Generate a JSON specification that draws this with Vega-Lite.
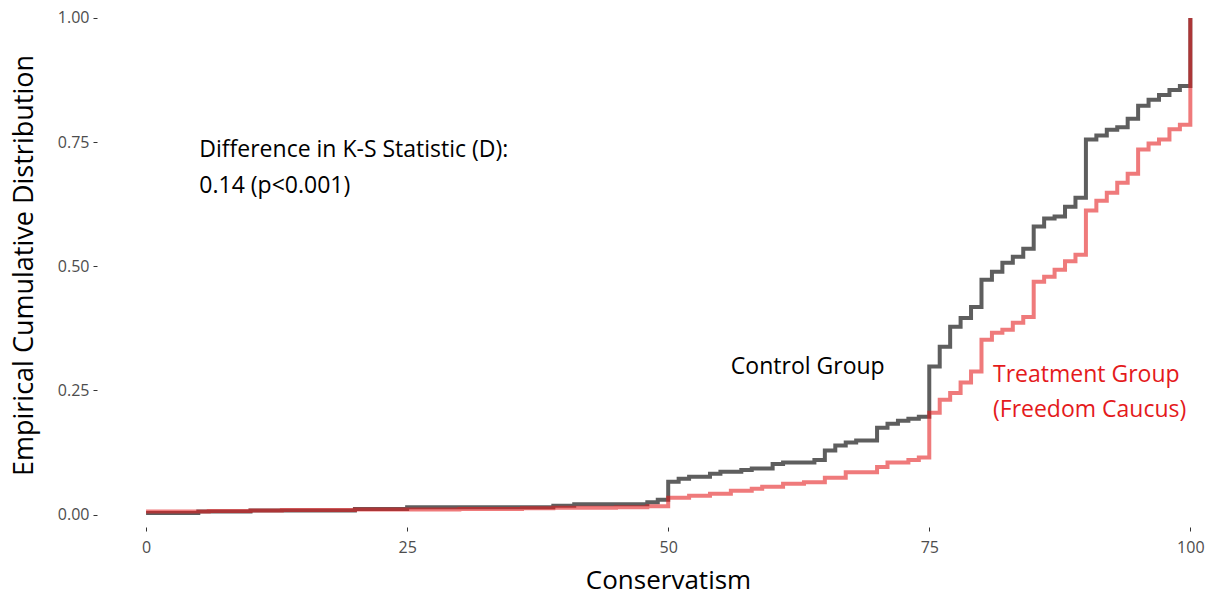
{
  "$schema": "https://vega.github.io/schema/vega-lite/v6.json",
  "autosize": "none",
  "padding": {"left": 97, "top": 3, "right": 6, "bottom": 70},
  "width": 1109,
  "height": 524,
  "background": "white",
  "config": {"view": {"stroke": null}, "font": "Open Sans"},
  "datasets": {
    "ecdf": [
      {"group": "Control", "x": 0, "p": 0.003},
      {"group": "Control", "x": 5, "p": 0.006},
      {"group": "Control", "x": 10, "p": 0.008},
      {"group": "Control", "x": 20, "p": 0.011},
      {"group": "Control", "x": 25, "p": 0.015},
      {"group": "Control", "x": 39, "p": 0.018},
      {"group": "Control", "x": 41, "p": 0.021},
      {"group": "Control", "x": 48, "p": 0.025},
      {"group": "Control", "x": 49, "p": 0.03},
      {"group": "Control", "x": 50, "p": 0.066},
      {"group": "Control", "x": 51, "p": 0.072},
      {"group": "Control", "x": 52, "p": 0.076},
      {"group": "Control", "x": 54, "p": 0.082},
      {"group": "Control", "x": 55, "p": 0.086},
      {"group": "Control", "x": 57, "p": 0.09},
      {"group": "Control", "x": 58, "p": 0.093},
      {"group": "Control", "x": 60, "p": 0.102},
      {"group": "Control", "x": 61, "p": 0.105},
      {"group": "Control", "x": 64, "p": 0.11},
      {"group": "Control", "x": 65, "p": 0.129},
      {"group": "Control", "x": 66, "p": 0.139},
      {"group": "Control", "x": 67, "p": 0.145},
      {"group": "Control", "x": 68, "p": 0.149},
      {"group": "Control", "x": 70, "p": 0.175},
      {"group": "Control", "x": 71, "p": 0.183},
      {"group": "Control", "x": 72, "p": 0.189},
      {"group": "Control", "x": 73, "p": 0.193},
      {"group": "Control", "x": 74, "p": 0.197},
      {"group": "Control", "x": 75, "p": 0.298},
      {"group": "Control", "x": 76, "p": 0.338},
      {"group": "Control", "x": 77, "p": 0.378},
      {"group": "Control", "x": 78, "p": 0.396},
      {"group": "Control", "x": 79, "p": 0.418},
      {"group": "Control", "x": 80, "p": 0.473},
      {"group": "Control", "x": 81, "p": 0.489},
      {"group": "Control", "x": 82, "p": 0.507},
      {"group": "Control", "x": 83, "p": 0.519},
      {"group": "Control", "x": 84, "p": 0.535},
      {"group": "Control", "x": 85, "p": 0.58},
      {"group": "Control", "x": 86, "p": 0.596},
      {"group": "Control", "x": 87, "p": 0.6},
      {"group": "Control", "x": 88, "p": 0.62},
      {"group": "Control", "x": 89, "p": 0.638},
      {"group": "Control", "x": 90, "p": 0.755},
      {"group": "Control", "x": 91, "p": 0.763},
      {"group": "Control", "x": 92, "p": 0.775},
      {"group": "Control", "x": 93, "p": 0.78},
      {"group": "Control", "x": 94, "p": 0.797},
      {"group": "Control", "x": 95, "p": 0.823},
      {"group": "Control", "x": 96, "p": 0.835},
      {"group": "Control", "x": 97, "p": 0.845},
      {"group": "Control", "x": 98, "p": 0.855},
      {"group": "Control", "x": 99, "p": 0.863},
      {"group": "Control", "x": 100, "p": 1.0},
      {"group": "Treatment", "x": 0, "p": 0.006},
      {"group": "Treatment", "x": 6, "p": 0.007},
      {"group": "Treatment", "x": 10, "p": 0.008},
      {"group": "Treatment", "x": 13, "p": 0.009},
      {"group": "Treatment", "x": 20, "p": 0.01},
      {"group": "Treatment", "x": 30, "p": 0.011},
      {"group": "Treatment", "x": 36, "p": 0.013},
      {"group": "Treatment", "x": 39, "p": 0.014},
      {"group": "Treatment", "x": 45, "p": 0.015},
      {"group": "Treatment", "x": 48, "p": 0.017},
      {"group": "Treatment", "x": 50, "p": 0.034},
      {"group": "Treatment", "x": 52, "p": 0.038},
      {"group": "Treatment", "x": 54, "p": 0.042},
      {"group": "Treatment", "x": 56, "p": 0.048},
      {"group": "Treatment", "x": 58, "p": 0.052},
      {"group": "Treatment", "x": 59, "p": 0.056},
      {"group": "Treatment", "x": 61, "p": 0.062},
      {"group": "Treatment", "x": 63, "p": 0.065},
      {"group": "Treatment", "x": 65, "p": 0.074},
      {"group": "Treatment", "x": 67, "p": 0.085},
      {"group": "Treatment", "x": 70, "p": 0.096},
      {"group": "Treatment", "x": 71, "p": 0.105},
      {"group": "Treatment", "x": 73, "p": 0.11},
      {"group": "Treatment", "x": 74, "p": 0.115},
      {"group": "Treatment", "x": 75, "p": 0.205},
      {"group": "Treatment", "x": 76, "p": 0.231},
      {"group": "Treatment", "x": 77, "p": 0.245},
      {"group": "Treatment", "x": 78, "p": 0.266},
      {"group": "Treatment", "x": 79, "p": 0.288},
      {"group": "Treatment", "x": 80, "p": 0.352},
      {"group": "Treatment", "x": 81, "p": 0.366},
      {"group": "Treatment", "x": 82, "p": 0.372},
      {"group": "Treatment", "x": 83, "p": 0.386},
      {"group": "Treatment", "x": 84, "p": 0.398},
      {"group": "Treatment", "x": 85, "p": 0.469},
      {"group": "Treatment", "x": 86, "p": 0.479},
      {"group": "Treatment", "x": 87, "p": 0.493},
      {"group": "Treatment", "x": 88, "p": 0.51},
      {"group": "Treatment", "x": 89, "p": 0.523},
      {"group": "Treatment", "x": 90, "p": 0.612},
      {"group": "Treatment", "x": 91, "p": 0.632},
      {"group": "Treatment", "x": 92, "p": 0.648},
      {"group": "Treatment", "x": 93, "p": 0.668},
      {"group": "Treatment", "x": 94, "p": 0.686},
      {"group": "Treatment", "x": 95, "p": 0.735},
      {"group": "Treatment", "x": 96, "p": 0.747},
      {"group": "Treatment", "x": 97, "p": 0.755},
      {"group": "Treatment", "x": 98, "p": 0.776},
      {"group": "Treatment", "x": 99, "p": 0.785},
      {"group": "Treatment", "x": 100, "p": 1.0}
    ],
    "notes": [
      {"x": 5.1, "p": 0.734, "label": "Difference in K-S Statistic (D):", "kind": "stat"},
      {"x": 5.1, "p": 0.662, "label": "0.14 (p<0.001)", "kind": "stat"},
      {"x": 56.0, "p": 0.298, "label": "Control Group", "kind": "control"},
      {"x": 81.1, "p": 0.282, "label": "Treatment Group", "kind": "treat"},
      {"x": 81.1, "p": 0.211, "label": "(Freedom Caucus)", "kind": "treat"}
    ]
  },
  "encoding": {
    "x": {
      "field": "x", "type": "quantitative",
      "scale": {"domain": [-4.7, 101.5], "nice": false, "zero": false},
      "axis": {
        "values": [0, 25, 50, 75, 100], "format": "d", "grid": false, "domain": false,
        "tickSize": 4, "tickColor": "#333333", "labelPadding": 8,
        "labelFont": "Open Sans", "labelFontSize": 16, "labelColor": "#4d4d4d",
        "title": "Conservatism", "titleFont": "Open Sans", "titleFontSize": 26,
        "titleFontWeight": "normal", "titleColor": "#000000", "titlePadding": 12,
        "titleX": 571
      }
    },
    "y": {
      "field": "p", "type": "quantitative",
      "scale": {"domain": [-0.025, 1.03], "nice": false, "zero": false},
      "axis": {
        "values": [0, 0.25, 0.5, 0.75, 1], "format": ".2f", "grid": false, "domain": false,
        "tickSize": 4, "tickColor": "#333333", "labelPadding": 4,
        "labelFont": "Open Sans", "labelFontSize": 16, "labelColor": "#4d4d4d",
        "title": "Empirical Cumulative Distribution", "titleFont": "Open Sans",
        "titleFontSize": 27, "titleFontWeight": "normal", "titleColor": "#000000",
        "titlePadding": 19
      }
    }
  },
  "layer": [
    {
      "data": {"name": "ecdf"},
      "transform": [{"filter": "datum.group == 'Control'"}],
      "mark": {"type": "line", "interpolate": "step-after", "color": "#5e5e5e", "strokeWidth": 4, "opacity": 1, "clip": true}
    },
    {
      "data": {"name": "ecdf"},
      "transform": [{"filter": "datum.group == 'Treatment'"}],
      "mark": {"type": "line", "interpolate": "step-after", "color": "#e41a1c", "strokeWidth": 4, "opacity": 0.58, "clip": true}
    },
    {
      "data": {"name": "notes"},
      "mark": {"type": "text", "align": "left", "baseline": "middle", "font": "Open Sans", "fontSize": 23},
      "encoding": {
        "text": {"field": "label"},
        "color": {
          "field": "kind", "type": "nominal",
          "scale": {"domain": ["stat", "control", "treat"], "range": ["#000000", "#000000", "#e41a1c"]},
          "legend": null
        }
      }
    }
  ]
}
